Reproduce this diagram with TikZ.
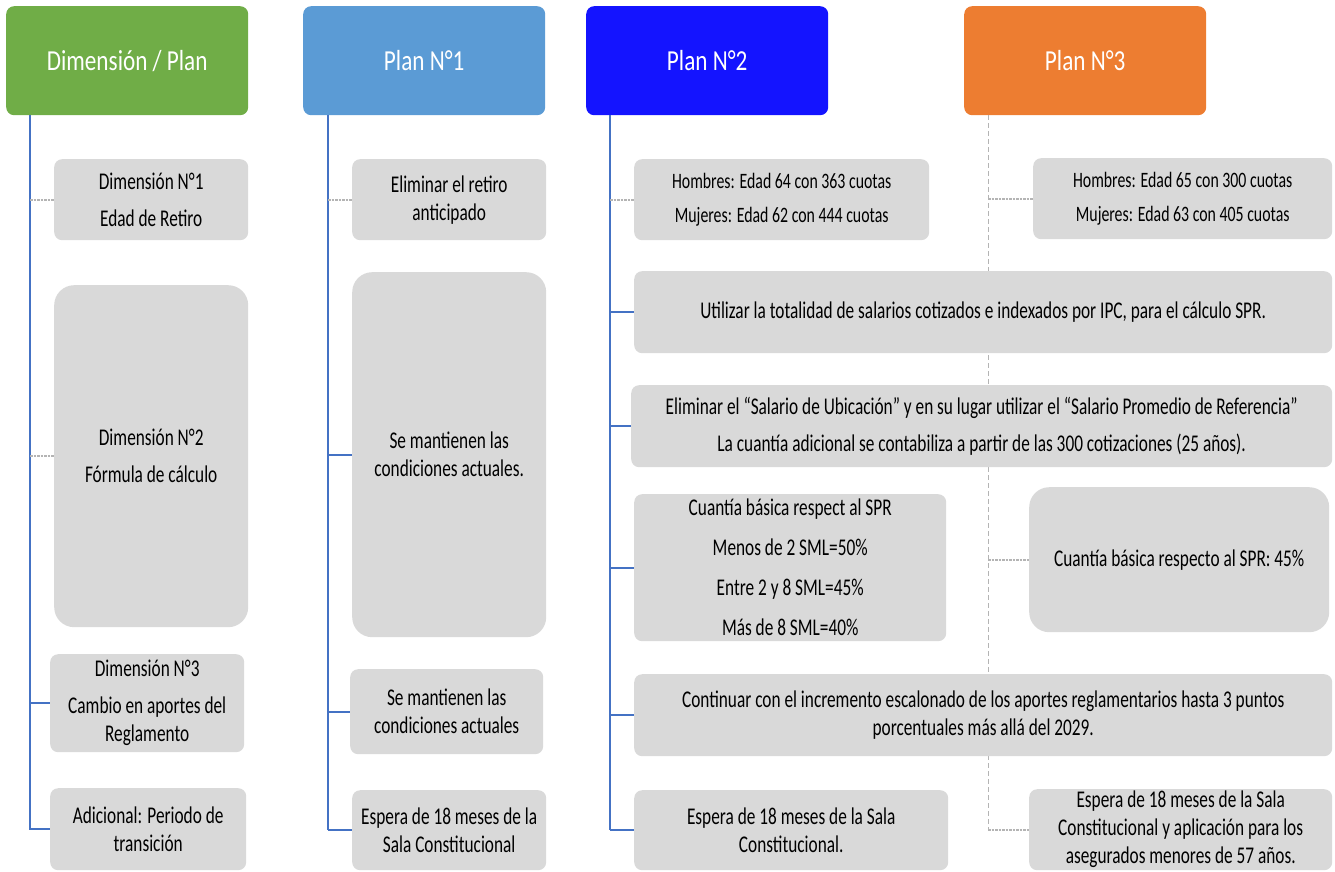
\documentclass[tikz,border=0pt]{standalone}
\usepackage{fontspec}
\setmainfont{Carlito}[FakeStretch=0.72]
\newfontfamily\headf{Carlito}[FakeStretch=0.8]
\definecolor{hgreen}{HTML}{70AD47}
\definecolor{hblue}{HTML}{5B9BD5}
\definecolor{hbright}{HTML}{1414FF}
\definecolor{horange}{HTML}{ED7D31}
\definecolor{boxgray}{HTML}{D9D9D9}
\definecolor{lineblue}{HTML}{4472C4}
\definecolor{dotgray}{HTML}{B4B4B4}
\begin{document}
\begin{tikzpicture}[x=1pt,y=-1pt,
  hdr/.style={rounded corners=8pt, minimum width=242pt, minimum height=109pt, anchor=north west, text=white, inner sep=0pt, font=\headf\fontsize{29}{34}\selectfont},
  box/.style={fill=boxgray, rounded corners=8pt, anchor=north west, align=center, inner sep=0pt, font=\fontsize{24}{28}\selectfont},
  bigbox/.style={box, rounded corners=20pt},
  smallfont/.style={font=\fontsize{22}{26}\selectfont},
  link/.style={draw=lineblue, line width=1.8pt},
  dotlink/.style={draw=dotgray, line width=1.8pt, dash pattern=on 2.5pt off 1pt},
  vdash/.style={draw=dotgray, line width=0.9pt, dash pattern=on 5pt off 3pt}
]
\useasboundingbox (0,0) rectangle (1335,872);

% headers
\node[hdr, fill=hgreen] (h0) at (6,6) {Dimensión / Plan};
\node[hdr, fill=hblue] (h1) at (303,6) {Plan N°1};
\node[hdr, fill=hbright] (h2) at (586,6) {Plan N°2};
\node[hdr, fill=horange] (h3) at (964,6) {Plan N°3};

\coordinate (v0) at (30,115);
\coordinate (v1) at (328,115);
\coordinate (v2) at (610,115);
\coordinate (v3) at (988,115);

\coordinate (e0) at (30,830);
\coordinate (e1) at (328,830);
\coordinate (e2) at (610,830);
\coordinate (e3) at (988,830);

\draw[link] (v0) -- (e0);
\draw[link] (v1) -- (e1);
\draw[link] (v2) -- (e2);
\draw[vdash] (v3) -- (e3);

% column 0
\node[box, minimum width=194pt, minimum height=81pt] (b01) at (54,159) {Dimensión N°1\\[9pt]Edad de Retiro};
\node[bigbox, minimum width=194pt, minimum height=342pt] (b02) at (54,285) {Dimensión N°2\\[9pt]Fórmula de cálculo};
\node[box, minimum width=194pt, minimum height=98pt] (b03) at (50,654) {Dimensión N°3\\[9pt]Cambio en aportes del\\Reglamento};
\node[box, minimum width=196pt, minimum height=82pt] (b04) at (50,788) {Adicional: Periodo de\\transición};

% column 1
\node[box, minimum width=194pt, minimum height=81pt] (b11) at (352,159) {Eliminar el retiro\\anticipado};
\node[bigbox, minimum width=194pt, minimum height=365pt] (b12) at (352,272) {Se mantienen las\\condiciones actuales.};
\node[box, minimum width=193pt, minimum height=85pt] (b13) at (350,669) {Se mantienen las\\condiciones actuales};
\node[box, minimum width=194pt, minimum height=80pt] (b14) at (352,790) {Espera de 18 meses de la\\Sala Constitucional};

% column 2
\node[box, smallfont, minimum width=295pt, minimum height=81pt] (b21) at (634,159) {Hombres: Edad 64 con 363 cuotas\\[8pt]Mujeres: Edad 62 con 444 cuotas};
\node[box, minimum width=698pt, minimum height=82pt] (b22) at (634,271) {Utilizar la totalidad de salarios cotizados e indexados por IPC, para el cálculo SPR.};
\node[box, minimum width=701pt, minimum height=82pt] (b23) at (631,385) {Eliminar el “Salario de Ubicación” y en su lugar utilizar el “Salario Promedio de Referencia”\\[9pt]La cuantía adicional se contabiliza a partir de las 300 cotizaciones (25 años).};
\node[box, minimum width=312pt, minimum height=147pt] (b24) at (634,494) {Cuantía básica respect al SPR\\[12pt]Menos de 2 SML=50\%\\[12pt]Entre 2 y 8 SML=45\%\\[12pt]Más de 8 SML=40\%};
\node[box, minimum width=698pt, minimum height=82pt] (b25) at (634,674) {Continuar con el incremento escalonado de los aportes reglamentarios hasta 3 puntos\\porcentuales más allá del 2029.};
\node[box, minimum width=314pt, minimum height=80pt] (b26) at (634,790) {Espera de 18 meses de la Sala\\Constitucional.};

% column 3
\node[box, smallfont, minimum width=299pt, minimum height=81pt] (b31) at (1033,158) {Hombres: Edad 65 con 300 cuotas\\[8pt]Mujeres: Edad 63 con 405 cuotas};
\node[bigbox, minimum width=300pt, minimum height=145pt] (b32) at (1029,487) {Cuantía básica respecto al SPR: 45\%};
\node[box, minimum width=303pt, minimum height=81pt] (b33) at (1029,789) {Espera de 18 meses de la Sala\\Constitucional y aplicación para los\\asegurados menores de 57 años.};

% connectors
\draw[dotlink] (v0 |- b01.west) -- (b01.west);
\draw[dotlink] (v0 |- b02.west) -- (b02.west);
\draw[link] (v0 |- b03.west) -- (b03.west);
\draw[link] (v0 |- b04.west) -- (b04.west);

\draw[dotlink] (v1 |- b11.west) -- (b11.west);
\draw[link] (v1 |- b12.west) -- (b12.west);
\draw[link] (v1 |- b13.west) -- (b13.west);
\draw[link] (v1 |- b14.west) -- (b14.west);

\draw[dotlink] (v2 |- b21.west) -- (b21.west);
\draw[link] (v2 |- b22.west) -- (b22.west);
\draw[link] (v2 |- b23.west) -- (b23.west);
\draw[link] (v2 |- b24.west) -- (b24.west);
\draw[link] (v2 |- b25.west) -- (b25.west);
\draw[link] (v2 |- b26.west) -- (b26.west);

\draw[dotlink] (v3 |- b31.west) -- (b31.west);
\draw[dotlink] (v3 |- b32.west) -- (b32.west);
\draw[dotlink] (v3 |- b33.west) -- (b33.west);
\end{tikzpicture}
\end{document}
